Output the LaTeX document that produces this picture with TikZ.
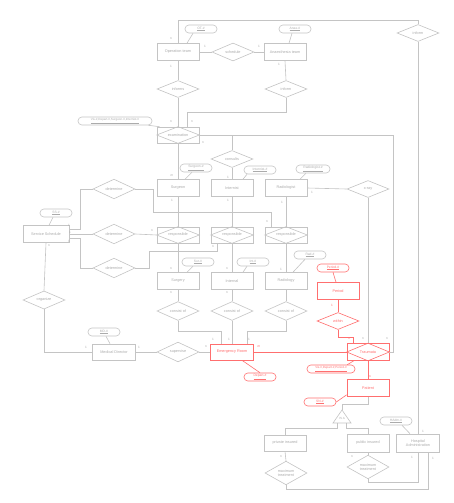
\documentclass[tikz,border=0pt]{standalone}
\usepackage{fontspec}
\setmainfont{Liberation Sans}
\usetikzlibrary{shapes.geometric,calc}
\definecolor{lc}{HTML}{C4C4C4}
\definecolor{tc}{HTML}{ABABAB}
\definecolor{rc}{HTML}{FF6F6F}
\begin{document}
\begin{tikzpicture}[x=1pt,y=-1pt,line width=0.6pt,
 every node/.style={font=\fontsize{3.8}{4.4}\selectfont,text=tc,inner sep=0pt},
 ent/.style={draw=lc,rectangle,minimum width=42pt,minimum height=17pt,align=center},
 rel/.style={draw=lc,diamond,minimum width=42pt,minimum height=17pt,align=center},
 attr/.style={draw=lc,rectangle,rounded corners=3.9pt,minimum width=32pt,minimum height=8pt,font=\fontsize{3.3}{3.8}\selectfont},
 card/.style={font=\fontsize{3.2}{3.6}\selectfont,text=tc},
 ln/.style={draw=lc},
 rd/.style={draw=rc,text=rc},
 rl/.style={draw=rc}]
\useasboundingbox[fill=white] (0,0) rectangle (454,503);
\newcommand{\innerdia}[2]{\draw[#2] (#1.west)--(#1.north)--(#1.east)--(#1.south)--cycle;}
% entities
\node[ent] (ot) at (178,52) {Operation team};
\node[ent] (at) at (285,52) {Anaesthesia team};
\node[ent] (surgeon) at (178,188) {Surgeon};
\node[ent] (internist) at (232,188) {Internist};
\node[ent] (radiologist) at (286,188) {Radiologist};
\node[ent,minimum width=46pt] (SS) at (46,234) {Service Schedule};
\node[ent] (surgery) at (178,281) {Surgery};
\node[ent] (internal) at (232,281) {Internal};
\node[ent] (radiology) at (286,281) {Radiology};
\node[ent,rd,minimum width=43pt,minimum height=16pt] (ER) at (232,352) {Emergency Room};
\node[ent,minimum width=43pt,minimum height=16pt] (MD) at (114,352) {Medical Director};
\node[ent,rd] (Period) at (338,291) {Period};
\node[ent,rd] (patient) at (368,388) {Patient};
\node[ent,minimum height=16pt] (private) at (285,443) {private insured};
\node[ent,minimum height=18pt] (public) at (368,443) {public insured};
\node[ent,minimum width=43pt,minimum height=18pt] (HA) at (418,443) {Hospital\\Administration};
% relationships
\node[rel] (sched) at (233,52) {schedule};
\node[rel] (informsL) at (178,89) {informs};
\node[rel] (informR) at (286,89) {inform};
\node[rel] (informTop) at (418,33) {inform};
\node[rel] (consults) at (232,159) {consults};
\node[rel] (xray) at (368,189) {x-ray};
\node[rel] (det1) at (114,189) {determine};
\node[rel] (det2) at (114,234) {determine};
\node[rel] (det3) at (114,268) {determine};
\node[rel] (cons1) at (178,311) {consist of};
\node[rel] (cons2) at (232,311) {consist of};
\node[rel] (cons3) at (286,311) {consist of};
\node[rel] (supervise) at (178,352) {supervise};
\node[rel] (organize) at (44,300) {organize};
\node[rel,rd] (within) at (338,321) {within};
\node[rel] (maxT1) at (286,473) {maximum\\treatment};
\node[rel] (maxT2) at (368,467) {maximum\\treatment};
% associative entities
\node[ent,minimum height=16pt] (exam) at (178,135) {examination};
\innerdia{exam}{lc}
\node[ent,minimum height=16pt] (resp1) at (178,235) {responsible};
\innerdia{resp1}{lc}
\node[ent,minimum height=16pt] (resp2) at (232,235) {responsible};
\innerdia{resp2}{lc}
\node[ent,minimum height=16pt] (resp3) at (286,235) {responsible};
\innerdia{resp3}{lc}
\node[ent,rd] (traumata) at (368,352) {Traumata};
\innerdia{traumata}{rl}
% attributes
\node[attr] (aOT) at (201,29) {\underline{OT-\#}};
\node[attr] (aAT) at (295,29) {\underline{Anae-\#}};
\node[attr,minimum width=74pt,font=\fontsize{3}{3.5}\selectfont] (aExam) at (115,121) {\underline{Vis-\#,Depart-\#,Surgeon-\#,Internist-\#}};
\node[attr] (aSurgeon) at (196,168) {\underline{Surgeon-\#}};
\node[attr] (aInternist) at (260,170) {\underline{Internist-\#}};
\node[attr,minimum width=34pt] (aRadiologist) at (313,169) {\underline{Radiologist-\#}};
\node[attr] (aSS) at (56,213) {\underline{SS-\#}};
\node[attr] (aSur) at (198,262) {\underline{Sur-\#}};
\node[attr] (aInt) at (253,262) {\underline{Int-\#}};
\node[attr] (aRad) at (310,255) {\underline{Rad-\#}};
\node[attr] (aMD) at (104,332) {\underline{MD-\#}};
\node[attr,rd] (aPeriod) at (333,268) {\underline{Period-\#}};
\node[attr,rd,minimum width=48pt,font=\fontsize{3}{3.5}\selectfont] (aTraum) at (331,369) {\underline{Vis-\#,Depart-\#,Period-\#}};
\node[attr,rd] (aDepart) at (260,377) {\underline{Depart-\#}};
\node[attr,rd] (aSN) at (320,402) {\underline{SN-\#}};
\node[attr] (aHA) at (396,421) {\underline{HAdm-\#}};
% attribute links
\draw[ln] ($(aOT.south)+(-8,0)$) -- ($(ot.north)+(9,0)$);
\draw[ln] ($(aAT.south)+(-3,0)$) -- ($(at.north)+(4,0)$);
\draw[ln] ($(aExam.south east)+(-4,0)$) -- ($(exam.north west)+(3,0)$);
\draw[ln] ($(aSurgeon.south)+(-4,0)$) -- ($(surgeon.north)+(7,0)$);
\draw[ln] ($(aInternist.south)+(-13,0)$) -- ($(internist.north)+(11,0)$);
\draw[ln] ($(aRadiologist.south)+(-7,0)$) -- ($(radiologist.north)+(14,0)$);
\draw[ln] ($(aSS.south)+(-3,0)$) -- ($(SS.north)+(3,0)$);
\draw[ln] ($(aSur.south)+(-5,0)$) -- ($(surgery.north)+(9,0)$);
\draw[ln] ($(aInt.south)+(-6,0)$) -- ($(internal.north)+(11,0)$);
\draw[ln] ($(aRad.south)+(-5,0)$) -- ($(radiology.north)+(7,0)$);
\draw[ln] ($(aMD.south)+(2,0)$) -- ($(MD.north)+(-4,0)$);
\draw[rl] (aPeriod.south) -- ($(Period.north)+(-2,0)$);
\draw[rl] ($(aTraum.north east)+(-8,0)$) -- ($(traumata.south west)+(7,0)$);
\draw[rl] ($(ER.south)+(10,0)$) -- (aDepart.north);
\draw[rl] (aSN.east) -- ($(patient.south west)+(0,-2)$);
\draw[ln] ($(aHA.south)+(6,0)$) -- ($(HA.north)+(-8,0)$);
% connectors
\draw[ln] (ot.north) |- ($(informTop.north)+(0,-4)$) -- (informTop.north);
\draw[ln] (informTop.south) -- (HA.north);
\draw[ln] (ot.east) -- (sched.west);
\draw[ln] (sched.east) -- (at.west);
\draw[ln] (ot.south) -- (informsL.north);
\draw[ln] (informsL.south) -- (exam.north);
\draw[ln] (at.south) -- (informR.north);
\draw[ln] (informR.south) -- ++(0,14) -| ($(exam.north)+(9,0)$);
\draw[ln] (exam.east) -- (393,135) |- (traumata.east);
\draw[ln] (exam.east) -| (consults.north);
\draw[ln] (consults.south) -- (internist.north);
\draw[ln] (exam.south) -- (surgeon.north);
\draw[ln] (surgeon.south) -- (resp1.north);
\draw[ln] (internist.south) -- (resp2.north);
\draw[ln] (radiologist.south) -- (resp3.north);
\draw[ln] (radiologist.east) -- (xray.west);
\draw[ln] (xray.south) -- (traumata.north);
\draw[ln] ($(SS.east)+(0,-5)$) -- (80,229) |- (det1.west);
\draw[ln] (det1.east) -- (153,189) |- (271,212) -- ($(resp3.north)+(-15,0)$);
\draw[ln] (SS.east) -- (det2.west);
\draw[ln] (det2.east) -- (resp1.west);
\draw[ln] ($(SS.east)+(0,4)$) -- (80,238) |- (det3.west);
\draw[ln] (det3.east) -- (149,268) |- (217,251) -- ($(resp2.south)+(-15,0)$);
\draw[ln] (resp1.south) -- (surgery.north);
\draw[ln] (resp2.south) -- (internal.north);
\draw[ln] (resp3.south) -- (radiology.north);
\draw[ln] (surgery.south) -- (cons1.north);
\draw[ln] (internal.south) -- (cons2.north);
\draw[ln] (radiology.south) -- (cons3.north);
\draw[ln] (cons1.south) -- (178,331) -| ($(ER.north)+(-11,0)$);
\draw[ln] (cons2.south) -- (ER.north);
\draw[ln] (cons3.south) -- (286,331) -| ($(ER.north)+(15,0)$);
\draw[ln] (ER.west) -- (supervise.east);
\draw[ln] (supervise.west) -- (MD.east);
\draw[ln] (SS.south) -- (organize.north);
\draw[ln] (organize.south) |- (MD.west);
\draw[rl] (ER.east) -- (traumata.west);
\draw[rl] (Period.south) -- (within.north);
\draw[rl] (within.south) -- ++(0,7) -| ($(traumata.north)+(-15,0)$);
\draw[rl] (traumata.south) -- (patient.north);
% IS A
\coordinate (isaT) at (342,410);
\coordinate (isaL) at (333,423);
\coordinate (isaR) at (351,423);
\draw[ln] (isaT) -- (isaL) -- (isaR) -- cycle;
\node (isatxt) at (342,418.5) {\fontsize{3}{3}\selectfont IS A};
\draw[ln] (patient.south) -- ++(0,7) -| (isaT);
\draw[ln] (337,423) -- (337,428) -| (private.north);
\draw[ln] (346,423) -- (346,428) -| (public.north);
\draw[ln] (private.south) -- (maxT1.north);
\draw[ln] (public.south) -- (maxT2.north);
\draw[ln] (maxT2.south) -- ++(0,3) -| (HA.south);
\draw[ln] (maxT1.south) -- ++(0,4) -| ($(HA.south)+(10,0)$);
% cardinalities
\node[card] (k1) at (171,39) {n};
\node[card] (k2) at (205,46) {1};
\node[card] (k3) at (259,46) {1};
\node[card] (k4) at (171,66) {1};
\node[card] (k5) at (279,64) {1};
\node[card] (k6) at (171,122) {n};
\node[card] (k7) at (192,122) {n};
\node[card] (k8) at (203,143) {n};
\node[card] (k9) at (228,177) {1};
\node[card] (k10) at (172,176) {m};
\node[card] (k11) at (172,200) {1};
\node[card] (k12) at (228,200) {1};
\node[card] (k13) at (282,202) {1};
\node[card] (k14) at (312,192) {1};
\node[card] (k15) at (363,339) {n};
\node[card] (k16) at (387,339) {n};
\node[card] (k17) at (69,225) {1};
\node[card] (k18) at (70,232) {1};
\node[card] (k19) at (69,241) {1};
\node[card] (k20) at (267,222) {n};
\node[card] (k21) at (152,231) {n};
\node[card] (k22) at (213,247) {n};
\node[card] (k23) at (171,269) {n};
\node[card] (k24) at (227,269) {n};
\node[card] (k25) at (281,269) {1};
\node[card] (k26) at (171,293) {n};
\node[card] (k27) at (227,293) {n};
\node[card] (k28) at (213,339) {1};
\node[card] (k29) at (229,339) {1};
\node[card] (k30) at (249,339) {1};
\node[card] (k31) at (206,347) {n};
\node[card] (k32) at (139,347) {1};
\node[card] (k33) at (49,246) {n};
\node[card] (k34) at (86,347) {1};
\node[card,text=rc] (k35) at (259,347) {m};
\node[card,text=rc] (k36) at (332,305) {1};
\node[card,text=rc] (k37) at (349,339) {n};
\node[card,text=rc] (k38) at (370,377) {n};
\node[card] (k39) at (281,457) {n};
\node[card] (k40) at (352,457) {n};
\node[card] (k41) at (423,431) {1};
\node[card] (k42) at (412,457) {1};
\node[card] (k43) at (433,458) {1};
\end{tikzpicture}
\end{document}
